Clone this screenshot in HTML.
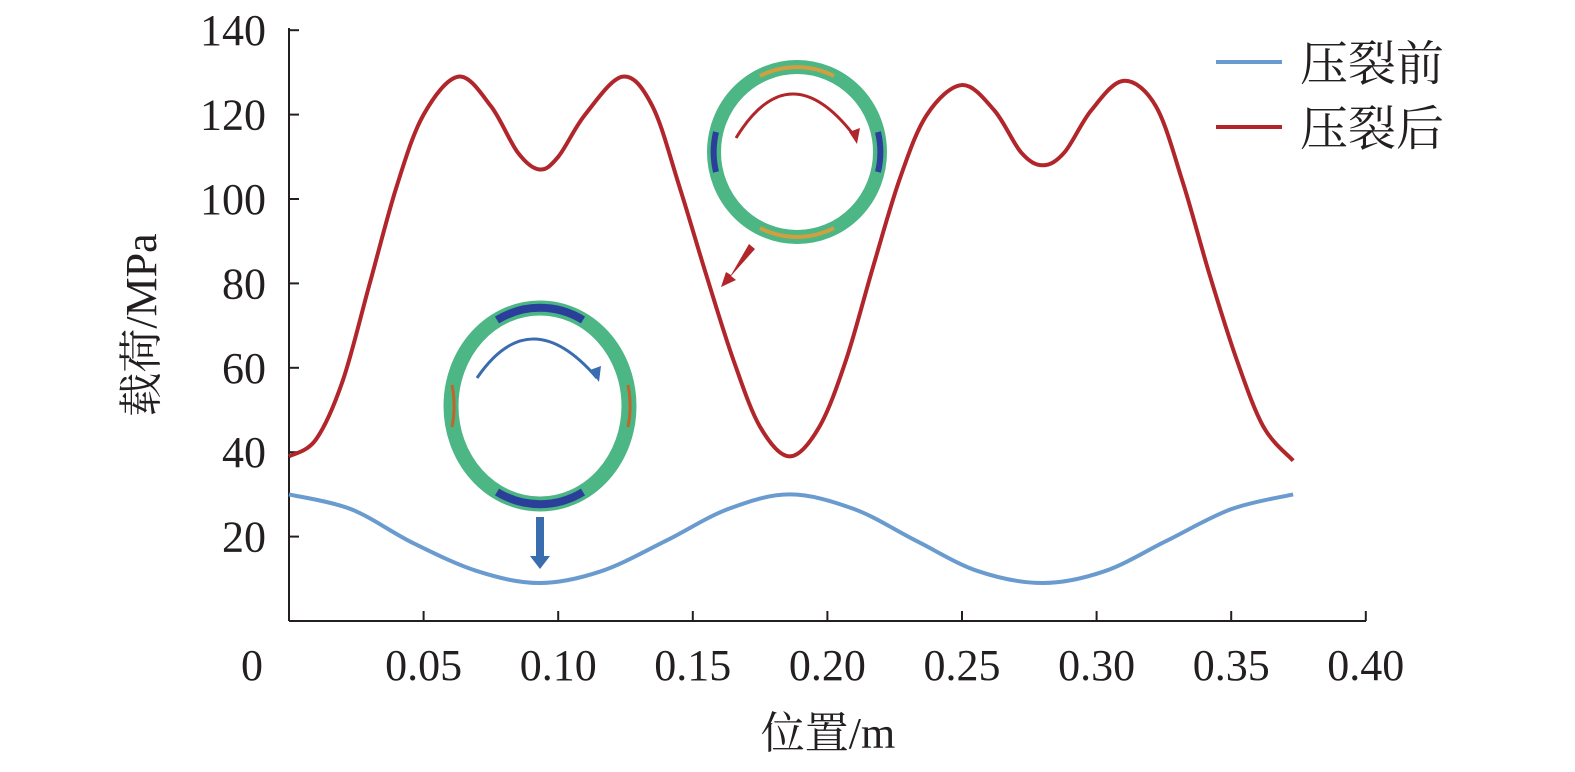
<!DOCTYPE html>
<html><head><meta charset="utf-8"><style>
html,body{margin:0;padding:0;background:#fff}
svg text{font-family:"Liberation Serif","Noto Serif CJK SC",serif;fill:#231f20}
</style></head><body>
<svg width="1575" height="767" viewBox="0 0 1575 767" xmlns="http://www.w3.org/2000/svg">
<g id="axes"></g>
<g id="insets">
  <g>
    <ellipse cx="540" cy="406" rx="89" ry="98" fill="none" stroke="#4cb685" stroke-width="15"/>
    <path d="M452,385 A89,98 0 0 1 452,427" fill="none" stroke="#c0662a" stroke-width="3"/>
    <path d="M628,385 A89,98 0 0 1 628,427" fill="none" stroke="#c0662a" stroke-width="3"/>
    <path d="M497,320 A89,98 0 0 1 583,320" fill="none" stroke="#2a3f9a" stroke-width="8"/>
    <path d="M583,492 A89,98 0 0 1 497,492" fill="none" stroke="#2a3f9a" stroke-width="8"/>
    <path d="M477,378 Q530,300 597,378" fill="none" stroke="#3a6cb0" stroke-width="3"/>
    <path d="M590,370 L599,382 L601,366 Z" fill="#3a6cb0"/>
  </g>
  <g>
    <ellipse cx="797" cy="152" rx="83" ry="85" fill="none" stroke="#4cb685" stroke-width="14"/>
    <path d="M760,76 A83,85 0 0 1 834,76" fill="none" stroke="#d0a040" stroke-width="4"/>
    <path d="M834,228 A83,85 0 0 1 760,228" fill="none" stroke="#d0a040" stroke-width="4"/>
    <path d="M716,132 A83,85 0 0 0 716,172" fill="none" stroke="#2a3f9a" stroke-width="6"/>
    <path d="M878,132 A83,85 0 0 1 878,172" fill="none" stroke="#2a3f9a" stroke-width="6"/>
    <path d="M736,138 Q790,50 856,138" fill="none" stroke="#b0262a" stroke-width="3"/>
    <path d="M849,132 L857,144 L860,128 Z" fill="#b0262a"/>
  </g>
  <path d="M536,517 H544 V556 H550 L540,569 L530,556 H536 Z" fill="#3a6cb0"/>
  <path d="M749,244 L755,249 L731,276 L736,280 L721,287 L726,272 L731,275 Z" fill="#b0262a"/>
</g>
<g id="series"></g>
<g>
  <line x1="1216" y1="62" x2="1282" y2="62" stroke="#6a9bcf" stroke-width="4"/>
  <text x="1300" y="80" font-size="48">压裂前</text>
  <line x1="1216" y1="127" x2="1282" y2="127" stroke="#b0262a" stroke-width="4"/>
  <text x="1300" y="145" font-size="48">压裂后</text>
</g>
<text x="828" y="748" font-size="44" text-anchor="middle">位置/m</text>
<text transform="translate(156,325) rotate(-90)" font-size="44" text-anchor="middle">载荷/MPa</text>
</svg>
<script>
const xTicks=[0.05,0.10,0.15,0.20,0.25,0.30,0.35,0.40];
const xTickLabels=["0.05","0.10","0.15","0.20","0.25","0.30","0.35","0.40"];
const yTicks=[20,40,60,80,100,120,140];
const yTickLabels=["20","40","60","80","100","120","140"];
const redX=[0,0.01,0.02,0.03,0.04,0.05,0.063,0.075,0.085,0.093,0.10,0.11,0.124,0.135,0.145,0.155,0.165,0.175,0.186,0.197,0.207,0.217,0.227,0.237,0.25,0.262,0.272,0.28,0.288,0.298,0.31,0.322,0.332,0.342,0.352,0.362,0.373];
const redY=[39,43,57,80,103,120,129,122,111,107,110,120,129,122,103,82,62,46,39,46,62,84,105,120,127,121,111,108,111,121,128,122,104,82,62,46,38];
const blueX=[0,0.023,0.046,0.07,0.093,0.116,0.14,0.163,0.186,0.21,0.233,0.256,0.28,0.303,0.326,0.35,0.373];
const blueY=[30,26.5,18.5,11.8,9,11.8,19,26.5,30,26.5,19,11.8,9,11.8,19,26.5,30];
const NS="http://www.w3.org/2000/svg";
const sx=v=>289+v*2692;
const sy=v=>621-v*4.22;
function mk(t,a,p){const e=document.createElementNS(NS,t);for(const k in a)e.setAttribute(k,a[k]);p.appendChild(e);return e;}
const ax=document.getElementById('axes');
let l=mk('line',{x1:289,y1:621,x2:1366,y2:621,stroke:'#231f20','stroke-width':2},ax);


l=mk('line',{x1:289,y1:621,x2:289,y2:28,stroke:'#231f20','stroke-width':2},ax);


let t=mk('text',{x:252,y:680,'font-size':44,'text-anchor':'middle'},ax);t.textContent='0';


xTicks.forEach((v,i)=>{const x=sx(v);
  const k=mk('line',{x1:x,y1:621,x2:x,y2:611,stroke:'#231f20','stroke-width':2},ax);
  
  
  const tx=mk('text',{x:x,y:680,'font-size':44,'text-anchor':'middle'},ax);tx.textContent=xTickLabels[i];
  
  
});
yTicks.forEach((v,i)=>{const y=sy(v);
  const k=mk('line',{x1:289,y1:y,x2:299,y2:y,stroke:'#231f20','stroke-width':2},ax);
  
  
  const tx=mk('text',{x:266,y:y+15,'font-size':44,'text-anchor':'end'},ax);tx.textContent=yTickLabels[i];
  
  
});
function smooth(xs,ys){const p=xs.map((x,i)=>[sx(x),sy(ys[i])]);let d='M'+p[0][0]+','+p[0][1];
  for(let i=0;i<p.length-1;i++){const p0=p[Math.max(0,i-1)],p1=p[i],p2=p[i+1],p3=p[Math.min(p.length-1,i+2)];
    d+=' C'+(p1[0]+(p2[0]-p0[0])/6)+','+(p1[1]+(p2[1]-p0[1])/6)+' '+(p2[0]-(p3[0]-p1[0])/6)+','+(p2[1]-(p3[1]-p1[1])/6)+' '+p2[0]+','+p2[1];}
  return d;}
const sg=document.getElementById('series');
let s=mk('path',{d:smooth(blueX,blueY),fill:'none',stroke:'#6a9bcf','stroke-width':4},sg);


s=mk('path',{d:smooth(redX,redY),fill:'none',stroke:'#b0262a','stroke-width':4},sg);


</script>
</body></html>
